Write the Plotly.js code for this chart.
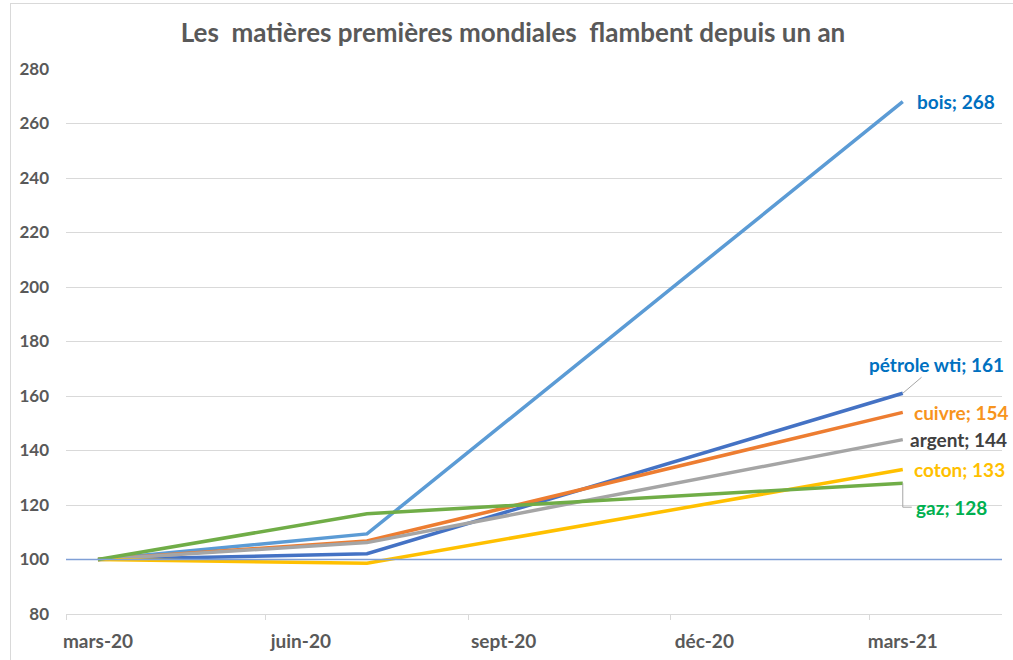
<!DOCTYPE html>
<html>
<head>
<meta charset="utf-8">
<script src="https://cdn.plot.ly/plotly-3.0.1.min.js"></script>
<style>
  html, body { margin: 0; padding: 0; background: #fff; }
  #wrap { position: relative; width: 1013px; height: 660px; }
  #chart { position: absolute; left: 0; top: 0; width: 1013px; height: 660px; }
  #frame { position: absolute; left: 10px; top: 3px; width: 1003px; height: 657px; border-left: 1px solid #d9d9d9; border-top: 1px solid #d9d9d9; pointer-events: none; box-sizing: border-box; }
</style>
</head>
<body>
<div id="wrap"><div id="chart"></div><div id="frame"></div></div>
<script>
// ---- data ----
const dates = ['2020-03-01', '2020-07-01', '2021-03-01'];
const seriesNames = ['bois', 'pétrole wti', 'cuivre', 'argent', 'coton', 'gaz'];
const bois    = [100, 109.4, 268];
const petrole = [100, 102.1, 161];
const cuivre  = [100, 106.8, 154];
const argent  = [100, 106.2, 144];
const coton   = [100, 98.6, 133];
const gaz     = [100, 116.8, 128];
const baseValue = 100;
const tickLabelDates = ['2020-03-01', '2020-06-01', '2020-09-01', '2020-12-01', '2021-03-01'];
const tickLabels = ['mars-20', 'juin-20', 'sept-20', 'déc-20', 'mars-21'];
const tickMarkDates = ['2020-02-15 12:00', '2020-05-16', '2020-08-16', '2020-11-15 12:00', '2021-02-14'];
const yTicks = [80, 100, 120, 140, 160, 180, 200, 220, 240, 260, 280];

// ---- styles ----
const values = [bois, petrole, cuivre, argent, coton, gaz];
const lineColors = ['#5B9BD5', '#4472C4', '#ED7D31', '#A5A5A5', '#FFC000', '#70AD47'];
const labelColors = ['#0070C0', '#0070C0', '#F7941D', '#404040', '#FFC000', '#00B050'];
const FONT = 'Lato, "Open Sans", sans-serif';

const traces = values.map((v, i) => ({
  x: dates, y: v, type: 'scatter', mode: 'lines', name: seriesNames[i],
  line: { color: lineColors[i], width: 3.5 }, xaxis: 'x', yaxis: 'y',
  hoverinfo: 'skip'
}));
// invisible trace to activate xaxis2 (tick marks only)
traces.push({ x: [dates[0]], y: [null], xaxis: 'x2', yaxis: 'y', showlegend: false, hoverinfo: 'skip', mode: 'lines' });

// label placement offsets (pixels)
const labelOffsets = [
  { ax: 12, ay: 0, xanchor: 'left', arrow: false },
  { ax: 34, ay: -29, xanchor: 'center', arrow: true },
  { ax: 9, ay: 0, xanchor: 'left', arrow: false },
  { ax: 5, ay: 0, xanchor: 'left', arrow: false },
  { ax: 9, ay: 0, xanchor: 'left', arrow: false },
  { ax: 11, ay: 24, xanchor: 'left', arrow: false }
];

const annotations = values.map((v, i) => {
  const o = labelOffsets[i];
  const last = v.length - 1;
  const a = {
    x: dates[last], y: v[last], xref: 'x', yref: 'y',
    text: seriesNames[i] + '; ' + v[last],
    font: { family: FONT, size: 19, color: labelColors[i], weight: 'bold' },
    xanchor: o.xanchor, yanchor: 'middle'
  };
  if (o.arrow) {
    Object.assign(a, { showarrow: true, arrowhead: 0, arrowwidth: 1, arrowcolor: '#A6A6A6', ax: o.ax, ay: o.ay, standoff: 0 });
  } else {
    Object.assign(a, { showarrow: false, xshift: o.ax, yshift: -o.ay });
  }
  return a;
});

const gazLast = gaz.length - 1;
const shapes = [
  { type: 'line', xref: 'paper', x0: 0, x1: 1, yref: 'y', y0: baseValue, y1: baseValue,
    line: { color: '#7F9FD6', width: 1.5 }, layer: 'above' },
  { type: 'path', xref: 'x', yref: 'y', xsizemode: 'pixel', ysizemode: 'pixel',
    xanchor: dates[gazLast], yanchor: gaz[gazLast],
    path: 'M0,0 L0,-24 L9,-24', line: { color: '#A6A6A6', width: 1 } }
];

const layout = {
  width: 1013, height: 660,
  margin: { l: 66, r: 11, t: 69, b: 46 },
  paper_bgcolor: '#ffffff', plot_bgcolor: '#ffffff',
  showlegend: false,
  title: {
    text: 'Les \u00a0matières premières mondiales \u00a0flambent depuis un an',
    font: { family: FONT, size: 26, color: '#595959', weight: 'bold' },
    x: 513 / 1013, xanchor: 'center', xref: 'container',
    y: 1 - 33 / 660, yanchor: 'middle', yref: 'container'
  },
  xaxis: {
    type: 'date', range: ['2020-02-15 12:00', '2021-04-15'],
    tickmode: 'array', tickvals: tickLabelDates, ticktext: tickLabels,
    ticks: '', showgrid: false, zeroline: false,
    showline: true, linecolor: '#D9D9D9', linewidth: 1,
    tickfont: { family: FONT, size: 19, color: '#595959', weight: 'bold' },
    ticklabelstandoff: 10
  },
  xaxis2: {
    type: 'date', overlaying: 'x', side: 'bottom', anchor: 'y',
    range: ['2020-02-15 12:00', '2021-04-15'],
    tickmode: 'array', tickvals: tickMarkDates, ticktext: tickMarkDates.map(() => ''),
    ticks: 'outside', ticklen: 5, tickcolor: '#D9D9D9', tickwidth: 1,
    showticklabels: false, showgrid: false, zeroline: false, showline: false
  },
  yaxis: {
    range: [80, 280], tickmode: 'array', tickvals: yTicks,
    showgrid: true, gridcolor: '#D9D9D9', gridwidth: 1, zeroline: false,
    showline: false, ticks: '',
    tickfont: { family: FONT, size: 17, color: '#595959', weight: 'bold' },
    ticklabelstandoff: 16
  },
  annotations: annotations,
  shapes: shapes
};

Plotly.newPlot('chart', traces, layout, { displayModeBar: false, staticPlot: true });
</script>
</body>
</html>
